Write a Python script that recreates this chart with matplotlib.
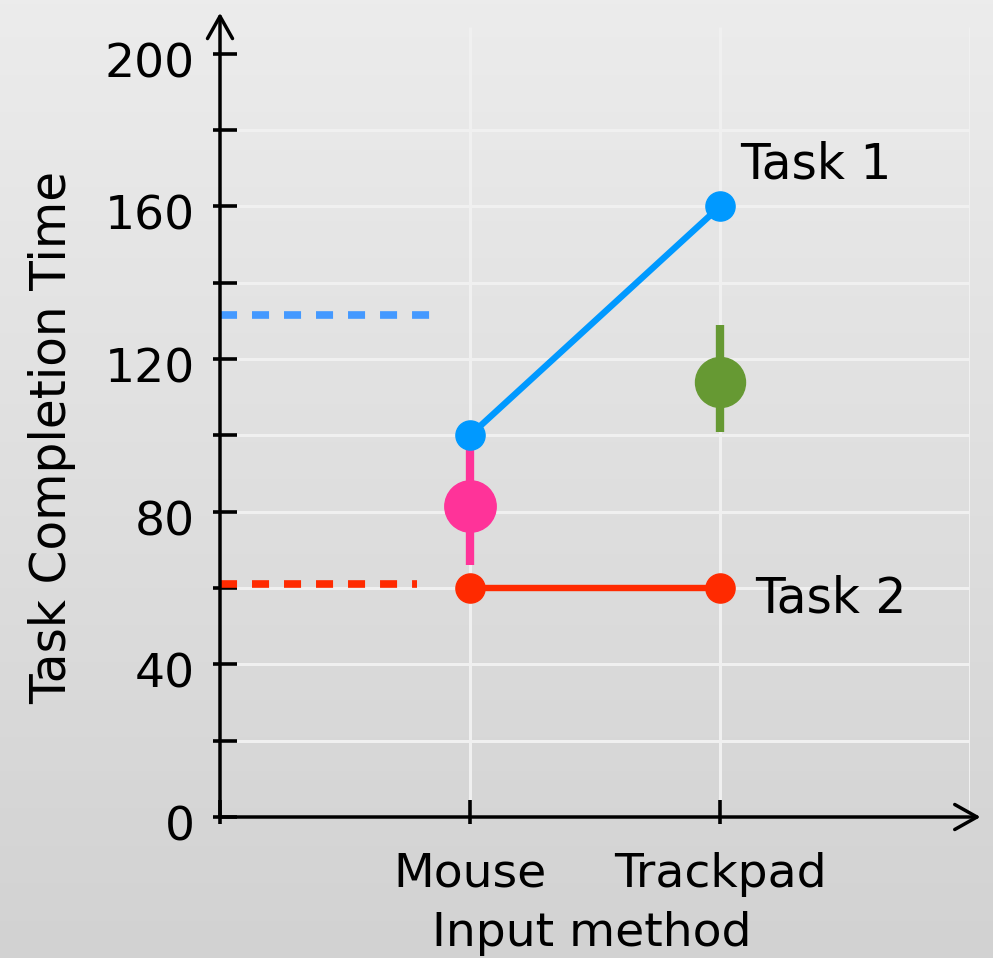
import numpy as np
import matplotlib

matplotlib.use("Agg")
import matplotlib.pyplot as plt
import matplotlib.transforms as mtransforms
from matplotlib.colors import LinearSegmentedColormap

# values
methods = ["Mouse", "Trackpad"]
task1_time = [100, 160]
task2_time = [60, 60]
mouse_mean, mouse_lo, mouse_hi = 81.5, 66, 97
trackpad_mean, trackpad_lo, trackpad_hi = 114, 101, 129
task1_baseline = 131.5
task2_baseline = 61
y_ticks = [0, 20, 40, 60, 80, 100, 120, 140, 160, 180, 200]
y_tick_labels = ["0", "", "40", "", "80", "", "120", "", "160", "", "200"]
grid_y = [20, 40, 60, 80, 100, 120, 140, 160, 180]
grid_x = [1, 2, 3]

W, H = 993, 958
FS = 34
fig = plt.figure(figsize=(W / 100, H / 100), dpi=100)

# soft grey gradient behind everything
bg = fig.add_axes([0, 0, 1, 1], zorder=-10)
grad = np.linspace(0, 1, 256).reshape(-1, 1)
bg.imshow(grad, aspect="auto", extent=[0, 1, 0, 1],
          cmap=LinearSegmentedColormap.from_list("bg", ["#ececec", "#d2d2d2"]))
bg.axis("off")

ax = fig.add_axes([220 / W, 141 / H, 750 / W, 790 / H])
ax.patch.set_visible(False)
ax.set_xlim(0, 3)
ax.set_ylim(0, 207)

ax.hlines(grid_y, 0, 3, color="#f0f0f0", lw=2.2, zorder=0)
ax.vlines(grid_x, 0, 207, color="#f0f0f0", lw=2.2, zorder=0)

for s in ax.spines.values():
    s.set_visible(False)

x_pos = [1, 2]
ax.set_xticks([0] + x_pos, [""] + methods)
ax.set_xticks([0] + x_pos, minor=True)
ax.set_yticks(y_ticks, y_tick_labels)
ax.set_yticks(y_ticks, minor=True)
ax.xaxis.remove_overlapping_locs = False
ax.yaxis.remove_overlapping_locs = False
ax.tick_params(which="major", direction="in", length=12, width=2.6, labelsize=FS)
ax.tick_params(which="minor", direction="out", length=5, width=2.6)
ax.tick_params(axis="y", which="major", pad=18)
ax.tick_params(axis="x", which="major", pad=25)

# the reference sets its y numbers a little below the tick
shift = mtransforms.ScaledTranslation(0, -6 / 100, fig.dpi_scale_trans)
for lab in ax.get_yticklabels():
    lab.set_transform(lab.get_transform() + shift)

# axes drawn as arrows
arrow = dict(arrowstyle="->,head_length=0.8,head_width=0.45", lw=2.5,
             color="black", mutation_scale=20, shrinkA=0, shrinkB=0)
ax.annotate("", xy=(0, 1.018), xytext=(0, 0), xycoords="axes fraction",
            arrowprops=arrow, annotation_clip=False)
ax.annotate("", xy=(1.014, 0), xytext=(0, 0), xycoords="axes fraction",
            arrowprops=arrow, annotation_clip=False)

# reference levels
ax.plot([0, 0.842], [task1_baseline] * 2, color="#4499ff", lw=5.5,
        ls=(0, (2.23, 1.96)), zorder=2)
ax.plot([0, 0.786], [task2_baseline] * 2, color="#ff2a00", lw=5.5,
        ls=(0, (2.23, 1.96)), zorder=2)

# means with error bars
ax.errorbar(1, mouse_mean, yerr=[[mouse_mean - mouse_lo], [mouse_hi - mouse_mean]],
            fmt="o", color="#ff3399", ms=37, elinewidth=6, capsize=0, zorder=3)
ax.errorbar(2, trackpad_mean, yerr=[[trackpad_mean - trackpad_lo], [trackpad_hi - trackpad_mean]],
            fmt="o", color="#669933", ms=36, elinewidth=6, capsize=0, zorder=3)

ax.plot(x_pos, task1_time, color="#0099ff", lw=4.6, marker="o", ms=21, zorder=4)
ax.plot(x_pos, task2_time, color="#ff2a00", lw=4.6, marker="o", ms=21, zorder=4)

ax.text(2.08, 167.4, "Task 1", fontsize=35, ha="left", va="baseline")
ax.text(2.14, 53.5, "Task 2", fontsize=35, ha="left", va="baseline")

fig.text(52 / W, (H - 437) / H, "Task Completion Time", fontsize=35,
         rotation=90, ha="center", va="center")
fig.text(592 / W, (H - 946) / H, "Input method", fontsize=FS,
         ha="center", va="baseline")

fig.savefig("out.png", dpi=100)
